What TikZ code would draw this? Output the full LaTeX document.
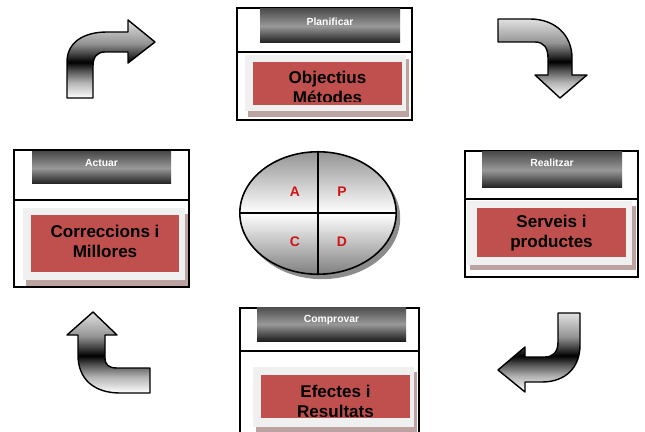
\documentclass[tikz,border=0pt]{standalone}
\usepackage{fontspec}
\setmainfont{Liberation Sans}
\usepackage{tikz}
\usetikzlibrary{shapes.geometric,shadows}
\definecolor{cellred}{HTML}{C0504D}
\definecolor{panel}{HTML}{F0F0F0}
\definecolor{rose}{HTML}{BDA2A2}
\definecolor{letter}{HTML}{D01414}
\pgfdeclareverticalshading{metal}{100bp}{color(0bp)=(white); color(25bp)=(white);
  color(35bp)=(black!30); color(42bp)=(black!65); color(48bp)=(black);
  color(53bp)=(black!75); color(60bp)=(black!42);
  color(75bp)=(black!12); color(100bp)=(black!12)}
\tikzset{
  phasebox/.style={draw=black, line width=1pt, fill=white},
  divider/.style={draw=black, line width=1.4pt},
  header/.style={top color=black!70, bottom color=black!88, middle color=black!40},
  headtxt/.style={text=white, font=\bfseries\fontsize{5.9}{7}\selectfont, inner sep=0pt},
  panelbox/.style={fill=panel},
  panelshadow/.style={fill=rose},
  redbox/.style={fill=cellred},
  redtxt/.style={font=\bfseries\fontsize{9.7}{11.3}\selectfont, align=center, inner sep=0pt},
  wheel/.style={ellipse, draw=black, line width=0.9pt, inner sep=0pt,
    minimum width=89pt, minimum height=69.7pt,
    top color=black!42, bottom color=black!50, middle color=white,
    drop shadow={shadow xshift=2.3pt, shadow yshift=-2.8pt, fill=black!45, opacity=1}},
  quad/.style={text=letter, font=\bfseries\fontsize{7.9}{9}\selectfont, inner sep=0pt},
  bent/.style={draw=black, line width=0.8pt, line join=round, shading=metal},
}
\begin{document}
\begin{tikzpicture}[x=0.02cm, y=-0.02cm]
  \useasboundingbox (0,0) rectangle (645,432);

  % Planificar
  \draw[phasebox] (237,8) rectangle (412,120);
  \shade[header] (260,9) rectangle (400,43);
  \node[headtxt, anchor=base] (plan) at (330,26) {Planificar};
  \draw[divider] (237,52) -- (412,52);
  \fill[panelshadow] (248,59) rectangle (409,117);
  \fill[panelbox] (245,55) rectangle (406,111);
  \fill[redbox] (253,62) rectangle (402,105);
  \begin{scope}
    \clip (253,62) rectangle (402,102);
    \node[redtxt, anchor=north] (plantxt) at (327.5,70.5) {Objectius\\Métodes};
  \end{scope}

  % Realitzar
  \draw[phasebox] (465,151) rectangle (638,277);
  \shade[header] (482,152) rectangle (622,188);
  \node[headtxt, anchor=base] (real) at (552,166.7) {Realitzar};
  \draw[divider] (465,199) -- (638,199);
  \fill[panelshadow] (470,206) rectangle (636,270);
  \fill[panelbox] (467,201) rectangle (632,265);
  \fill[redbox] (477,208) rectangle (626,257);
  \node[redtxt, anchor=north] (realtxt) at (551.5,214.5) {Serveis i\\productes};

  % Comprovar
  \draw[phasebox] (240,434) -- (240,308) -- (419,308) -- (419,434);
  \shade[header] (257,307) rectangle (406,341);
  \node[headtxt, anchor=base] (comp) at (331.5,322) {Comprovar};
  \draw[divider] (240,351) -- (419,351);
  \fill[panelshadow] (256,372) rectangle (417,434);
  \fill[panelbox] (253,367) rectangle (414,427);
  \fill[redbox] (261,375) rectangle (410,418);
  \begin{scope}
    \clip (261,375) rectangle (410,416);
    \node[redtxt, anchor=north] (comptxt) at (335.5,384.5) {Efectes i\\Resultats};
  \end{scope}

  % Actuar
  \draw[phasebox] (14,150) rectangle (189,287);
  \shade[header] (32,152) rectangle (171,184);
  \node[headtxt, anchor=base] (act) at (101.5,166.7) {Actuar};
  \draw[divider] (14,200) -- (189,200);
  \fill[panelshadow] (26,214) rectangle (188,286);
  \fill[panelbox] (23,208) rectangle (185,280);
  \fill[redbox] (31,215) rectangle (179,272);
  \node[redtxt, anchor=north] (acttxt) at (105,224.5) {Correccions i\\Millores};

  % PDCA wheel
  \node[wheel] (pdca) at (318,213) {};
  \draw[line width=0.9pt] (pdca.north) -- (pdca.south);
  \draw[line width=0.9pt] (pdca.west) -- (pdca.east);
  \node[quad] (qa) at (295,192) {A};
  \node[quad] (qp) at (342,192) {P};
  \node[quad] (qc) at (295,242) {C};
  \node[quad] (qd) at (342,242) {D};

  % bent arrows
  \shadedraw[bent] (67,98) -- (67,62) .. controls (67,42) and (84,32) .. (107,32)
    -- (128,32) -- (128,20) -- (155,42) -- (128,63) -- (128,52) -- (105,52)
    .. controls (97,52) and (93,57) .. (93,66) -- (93,98) -- cycle;
  \shadedraw[bent] (498,19) -- (530,19) .. controls (555,19) and (572,35) .. (572,58)
    -- (572,75) -- (587,75) -- (560,98) -- (535,75) -- (548,75) -- (548,58)
    .. controls (548,48) and (544,42) .. (535,42) -- (498,42) -- cycle;
  \shadedraw[bent] (558,313) -- (580,313) -- (580,345) .. controls (580,368) and (565,382) .. (542,382)
    -- (525,382) -- (525,392) -- (498,370) -- (525,347) -- (525,357) -- (545,357)
    .. controls (553,357) and (558,352) .. (558,342) -- cycle;
  \shadedraw[bent] (93,312) -- (117,335) -- (105,335) -- (105,358)
    .. controls (105,365) and (109,368) .. (117,368) -- (150,368) -- (150,393) -- (120,393)
    .. controls (95,393) and (78,380) .. (78,355) -- (78,335) -- (67,335) -- cycle;
\end{tikzpicture}
\end{document}
